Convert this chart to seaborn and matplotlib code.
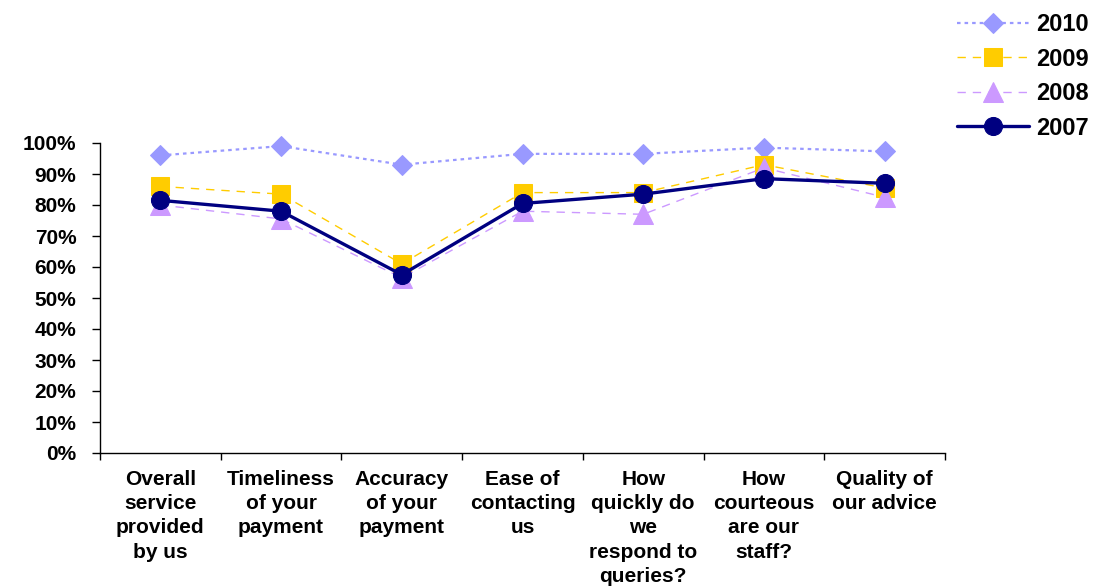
import pandas as pd
import seaborn as sns
import matplotlib.pyplot as plt
import numpy as np

sns.set_style('white')
plt.rcParams['font.family'] = ['Liberation Sans', 'DejaVu Sans']
plt.rcParams['font.weight'] = 'bold'
plt.rcParams['text.color'] = 'black'
plt.rcParams['xtick.color'] = 'black'
plt.rcParams['ytick.color'] = 'black'

# 数据
categories = ['Overall\nservice\nprovided\nby us', 'Timeliness\nof your\npayment',
              'Accuracy\nof your\npayment', 'Ease of\ncontacting\nus',
              'How\nquickly do\nwe\nrespond to\nqueries?', 'How\ncourteous\nare our\nstaff?',
              'Quality of\nour advice']
y2010 = [0.96, 0.99, 0.93, 0.965, 0.965, 0.985, 0.973]
y2009 = [0.86, 0.835, 0.61, 0.84, 0.84, 0.93, 0.855]
y2008 = [0.80, 0.755, 0.565, 0.78, 0.77, 0.92, 0.825]
y2007 = [0.815, 0.78, 0.575, 0.805, 0.835, 0.885, 0.87]

series = {'2010': y2010, '2009': y2009, '2008': y2008, '2007': y2007}
styles = {
    '2010': dict(color='#9999FF', marker='D', markersize=10, lw=1.6, ls=(0, (1.6, 1.8))),
    '2009': dict(color='#FFCC00', marker='s', markersize=13, lw=1.0, ls=(0, (6, 5))),
    '2008': dict(color='#CC99FF', marker='^', markersize=14, lw=1.0, ls=(0, (6, 5))),
    '2007': dict(color='#000080', marker='o', markersize=13, lw=2.4, ls='-'),
}

fig = plt.figure(figsize=(10.97, 5.86), dpi=100)
ax = fig.add_axes([100 / 1097, 133 / 586, 845 / 1097, 310 / 586])

for name, vals in series.items():
    d = pd.DataFrame({'cat': categories, 'val': vals})
    st = styles[name]
    sns.lineplot(data=d, x='cat', y='val', ax=ax, sort=False, label=name,
                 color=st['color'], marker=st['marker'], markersize=st['markersize'],
                 markeredgecolor=st['color'], linewidth=st['lw'], linestyle=st['ls'],
                 clip_on=False, zorder=3)

ax.set_xlim(-0.5, len(categories) - 0.5)
ax.set_ylim(0, 1)
ax.set_yticks(np.arange(0, 1.01, 0.1))
ax.set_yticklabels([f'{int(round(v * 100))}%' for v in np.arange(0, 1.01, 0.1)], fontsize=15, fontweight='bold')
ax.set_xticks(range(len(categories)))
ax.set_xticklabels(categories, fontsize=15, fontweight='bold', linespacing=1.36)
ax.set_xticks(np.arange(-0.5, len(categories), 1), minor=True)
ax.tick_params(axis='x', which='major', length=0, pad=12)
ax.tick_params(axis='x', which='minor', length=5, width=1, direction='out', bottom=True)
ax.tick_params(axis='y', length=6, width=1, direction='out', left=True, pad=11)
ax.set_xlabel('')
ax.set_ylabel('')

for s in ['top', 'right']:
    ax.spines[s].set_visible(False)
for s in ['left', 'bottom']:
    ax.spines[s].set_color('black')
    ax.spines[s].set_linewidth(1)

ax.legend(loc='upper left', bbox_to_anchor=(957 / 1097, 1 - 13 / 586), bbox_transform=fig.transFigure,
          frameon=False, prop={'size': 17, 'weight': 'bold'}, handlelength=3.05,
          handletextpad=0.3, labelspacing=0.49, borderpad=0, borderaxespad=0)

fig.savefig('out.png', dpi=100)
